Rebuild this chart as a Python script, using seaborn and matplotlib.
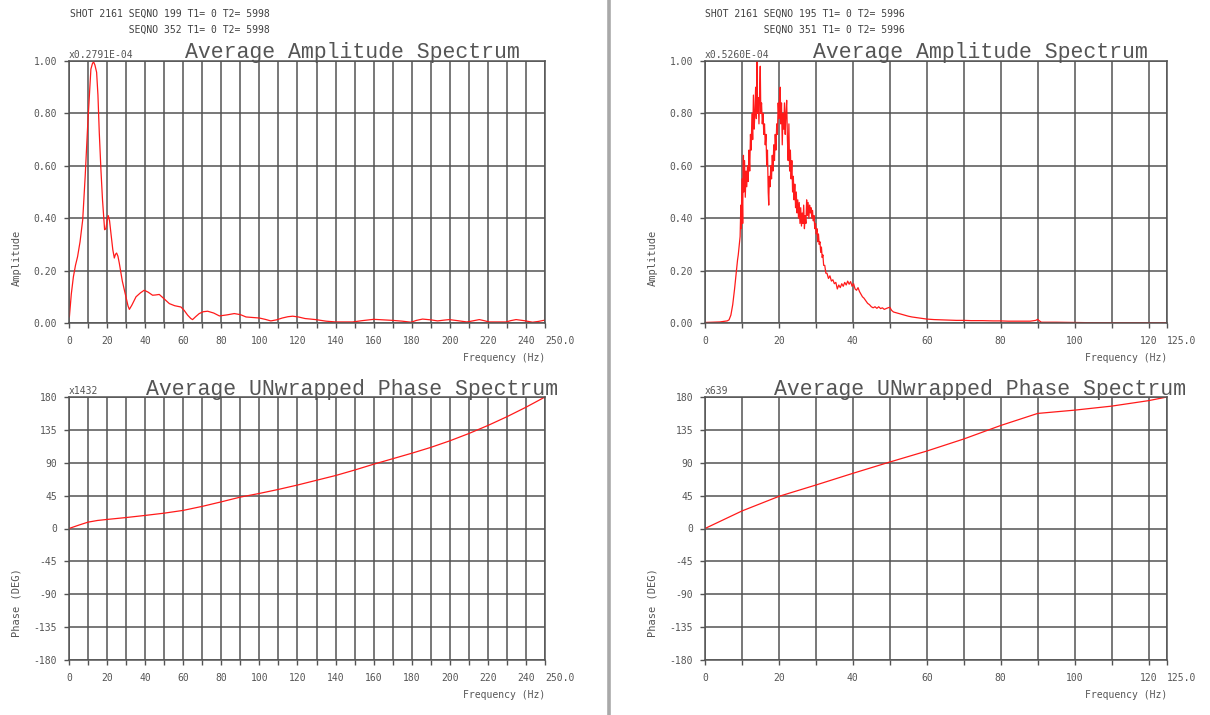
import matplotlib
matplotlib.use("Agg")
import matplotlib.pyplot as plt
from matplotlib.lines import Line2D
import pandas as pd
import seaborn as sns

# ---------------------------------------------------------------- data
header_left = ["SHOT 2161 SEQNO 199 T1= 0 T2= 5998",
               "          SEQNO 352 T1= 0 T2= 5998"]
header_right = ["SHOT 2161 SEQNO 195 T1= 0 T2= 5996",
                "          SEQNO 351 T1= 0 T2= 5996"]

amp_scale_left = "x0.2791E-04"
amp_scale_right = "x0.5260E-04"
phase_scale_left = "x1432"
phase_scale_right = "x639"

# normalised amplitude spectrum, trace pair 199/352 (0-250 Hz)
freq_amp_left = [0.2, 1.2, 2.3, 3.4, 4.5, 5.8, 7.2, 8.5, 9.8, 10.8, 11.5, 12.3,
                 12.9, 13.6, 14.5, 15.2, 15.9, 16.8, 17.6, 18.7, 19.4, 20.0,
                 20.6, 21.3, 22.0, 23.0, 23.8, 24.4, 25.0, 25.7, 26.4, 28.0,
                 29.9, 31.0, 31.7, 33.0, 35.2, 37.5, 39.5, 41.5, 43.9, 45.5,
                 47.4, 50.0, 52.7, 55.5, 58.8, 60.5, 62.3, 64.0, 64.9, 66.5,
                 68.4, 70.5, 72.8, 76.0, 79.0, 83.0, 86.8, 90.0, 93.0, 96.5,
                 100.0, 103.0, 106.0, 109.0, 112.0, 115.0, 117.5, 120.5, 124.0,
                 129.6, 135.0, 140.0, 145.0, 149.0, 154.0, 160.0, 165.0, 170.0,
                 175.0, 179.6, 182.5, 185.7, 190.0, 193.6, 197.0, 199.7, 204.0,
                 209.0, 212.0, 215.5, 218.0, 220.7, 225.0, 229.5, 232.0, 234.8,
                 239.0, 243.5, 246.5, 249.3, 250.0]
amp_left = [0.023, 0.11, 0.176, 0.22, 0.253, 0.31, 0.394, 0.56, 0.752, 0.88,
            0.969, 0.99, 0.997, 0.985, 0.957, 0.87, 0.727, 0.58, 0.47, 0.356,
            0.36, 0.39, 0.41, 0.39, 0.344, 0.28, 0.248, 0.262, 0.267, 0.255,
            0.229, 0.16, 0.10, 0.065, 0.052, 0.068, 0.10, 0.115, 0.125, 0.118,
            0.106, 0.107, 0.109, 0.092, 0.074, 0.066, 0.061, 0.048, 0.03,
            0.017, 0.013, 0.024, 0.036, 0.043, 0.045, 0.038, 0.027, 0.031,
            0.036, 0.032, 0.023, 0.021, 0.019, 0.014, 0.008, 0.012, 0.019,
            0.024, 0.026, 0.023, 0.017, 0.013, 0.007, 0.004, 0.004, 0.004,
            0.009, 0.014, 0.012, 0.01, 0.007, 0.003, 0.01, 0.015, 0.012, 0.008,
            0.011, 0.013, 0.009, 0.004, 0.008, 0.013, 0.009, 0.004, 0.004,
            0.004, 0.009, 0.013, 0.009, 0.003, 0.006, 0.01, 0.01]

# normalised amplitude spectrum, trace pair 195/351 (0-125 Hz)
freq_amp_right = [0.0, 2.0, 4.0, 5.0, 6.0, 6.5, 7.0, 7.5, 8.0, 8.5, 8.8, 9.0,
                  9.3, 9.5, 9.7, 9.8, 10.0, 10.2, 10.3, 10.4, 10.5, 10.7, 10.9,
                  11.1, 11.3, 11.5, 11.7, 11.9, 12.1, 12.3, 12.5, 12.7, 12.9,
                  13.1, 13.3, 13.5, 13.7, 13.9, 14.05, 14.2, 14.4, 14.6, 14.8,
                  14.95, 15.1, 15.3, 15.5, 15.7, 15.9, 16.1, 16.3, 16.5, 16.7,
                  16.9, 17.1, 17.25, 17.4, 17.6, 17.8, 18.0, 18.2, 18.4, 18.6,
                  18.8, 19.0, 19.2, 19.4, 19.6, 19.8, 20.0, 20.2, 20.35, 20.5,
                  20.7, 20.9, 21.1, 21.3, 21.5, 21.7, 21.9, 22.1, 22.3, 22.5,
                  22.7, 22.9, 23.1, 23.3, 23.5, 23.7, 23.9, 24.1, 24.3, 24.5,
                  24.7, 24.9, 25.1, 25.3, 25.5, 25.7, 25.9, 26.1, 26.3, 26.5,
                  26.7, 26.9, 27.1, 27.3, 27.5, 27.7, 27.9, 28.1, 28.3, 28.5,
                  28.7, 28.9, 29.1, 29.3, 29.5, 29.7, 29.9, 30.1, 30.3, 30.5,
                  30.7, 30.9, 31.1, 31.3, 31.5, 31.7, 31.9, 32.1, 32.4, 32.7,
                  33.0, 33.4, 33.8, 34.2, 34.6, 35.0, 35.4, 35.8, 36.2, 36.6,
                  37.0, 37.4, 37.8, 38.2, 38.6, 39.0, 39.4, 39.8, 40.2, 40.6,
                  41.0, 41.4, 41.8, 42.2, 42.6, 43.0, 43.5, 44.0, 44.5, 45.0,
                  45.5, 46.0, 46.5, 47.0, 47.5, 48.0, 48.5, 49.0, 49.5, 50.0,
                  50.5, 51.0, 52.0, 53.0, 54.0, 55.0, 56.0, 57.0, 58.0, 59.0,
                  60.0, 62.0, 64.0, 66.0, 68.0, 70.0, 72.0, 75.0, 78.0, 80.0,
                  82.0, 85.0, 88.0, 89.5, 90.0, 90.5, 91.0, 95.0, 100.0, 102.0,
                  105.0, 110.0, 115.0, 120.0, 125.0]
amp_right = [0.002, 0.003, 0.004, 0.006, 0.008, 0.012, 0.03, 0.07, 0.13, 0.2,
             0.24, 0.26, 0.3, 0.33, 0.45, 0.36, 0.55, 0.38, 0.58, 0.64, 0.5,
             0.62, 0.48, 0.58, 0.52, 0.6, 0.54, 0.66, 0.58, 0.72, 0.66, 0.8,
             0.7, 0.87, 0.74, 0.8, 0.9, 0.78, 1.0, 0.8, 0.86, 0.76, 0.9, 0.98,
             0.8, 0.84, 0.76, 0.8, 0.72, 0.76, 0.68, 0.72, 0.6, 0.66, 0.5, 0.45,
             0.56, 0.52, 0.6, 0.55, 0.64, 0.58, 0.68, 0.62, 0.72, 0.66, 0.76,
             0.72, 0.84, 0.78, 0.88, 0.9, 0.76, 0.84, 0.68, 0.8, 0.74, 0.84,
             0.72, 0.8, 0.85, 0.7, 0.62, 0.76, 0.58, 0.66, 0.55, 0.62, 0.5,
             0.56, 0.47, 0.53, 0.44, 0.5, 0.42, 0.47, 0.4, 0.46, 0.38, 0.44,
             0.37, 0.42, 0.38, 0.45, 0.36, 0.41, 0.38, 0.47, 0.41, 0.46, 0.4,
             0.45, 0.42, 0.44, 0.4, 0.43, 0.39, 0.41, 0.36, 0.38, 0.34, 0.36,
             0.31, 0.34, 0.3, 0.31, 0.27, 0.29, 0.25, 0.26, 0.22, 0.22, 0.19,
             0.19, 0.17, 0.18, 0.16, 0.165, 0.15, 0.155, 0.13, 0.145, 0.135,
             0.15, 0.14, 0.155, 0.145, 0.16, 0.148, 0.158, 0.14, 0.15, 0.13,
             0.125, 0.135, 0.12, 0.11, 0.1, 0.095, 0.085, 0.075, 0.07, 0.062,
             0.058, 0.062, 0.056, 0.062, 0.055, 0.058, 0.052, 0.055, 0.058,
             0.06, 0.048, 0.042, 0.038, 0.034, 0.03, 0.026, 0.023, 0.021,
             0.019, 0.017, 0.015, 0.013, 0.012, 0.011, 0.01, 0.01, 0.009,
             0.009, 0.008, 0.008, 0.007, 0.007, 0.007, 0.01, 0.014, 0.008,
             0.003, 0.003, 0.002, 0.002, 0.001, 0.001, 0.001, 0.001, 0.001]

# unwrapped phase (degrees, scaled)
freq_phase_left = [0, 5, 10, 15, 20, 30, 40, 50, 60, 70, 80, 90, 100, 110, 120,
                   130, 140, 150, 160, 170, 180, 190, 200, 210, 220, 230, 240,
                   250]
phase_left = [0, 4.5, 8.7, 11.0, 12.4, 15.0, 17.9, 21.0, 24.8, 30.3, 36.5,
              43.0, 48.0, 53.5, 59.5, 66.0, 72.5, 80.0, 88.0, 95.5, 103.0,
              111.0, 120.0, 130.0, 141.0, 153.0, 166.0, 180.0]

freq_phase_right = [0, 10, 20, 30, 40, 50, 60, 70, 80, 90, 100, 110, 120, 125]
phase_right = [0, 24.0, 44.0, 59.5, 75.5, 91.0, 106.0, 122.5, 141.0, 157.5,
               162.0, 167.5, 175.0, 180.0]

amp_ticks = [0.0, 0.2, 0.4, 0.6, 0.8, 1.0]
phase_ticks = [-180, -135, -90, -45, 0, 45, 90, 135, 180]

# ---------------------------------------------------------------- style
sns.set_theme(style="white")
plt.rcParams["font.family"] = ["DejaVu Sans Mono", "DejaVu Sans"]

GRID = "#535353"
TXT = "#555555"
LINE = "#ff1a1a"
TITLE_FONT = ["Liberation Mono", "DejaVu Sans Mono"]

W, H = 1210, 715
fig = plt.figure(figsize=(W / 100, H / 100), dpi=100)
fig.patch.set_facecolor("white")


def box(x0, x1, ytop, ybot):
    return [x0 / W, 1 - ybot / H, (x1 - x0) / W, (ybot - ytop) / H]


ax_al = fig.add_axes(box(69, 545, 61, 323))
ax_pl = fig.add_axes(box(69, 545, 397, 660))
ax_ar = fig.add_axes(box(705, 1167, 61, 323))
ax_pr = fig.add_axes(box(705, 1167, 397, 660))


def freq_axis(ax, fmax):
    ticks = list(range(0, int(fmax), 10)) + [fmax]
    labels = [str(t) if t % 20 == 0 else "" for t in ticks[:-1]] + [f"{fmax:.1f}"]
    ax.set_xlim(0, fmax)
    ax.set_xticks(ticks)
    ax.set_xticklabels(labels)
    ax.get_xticklabels()[-1].set_horizontalalignment("left")
    ax.set_xlabel("Frequency (Hz)", loc="right", fontsize=7, color=TXT,
                  labelpad=5)


def frame(ax, title, title_y, scale_txt, ylabel, label_x, label_y):
    ax.set_facecolor("white")
    ax.grid(True, color=GRID, linewidth=1.1)
    ax.set_axisbelow(True)
    for s in ax.spines.values():
        s.set_visible(True)
        s.set_color(GRID)
        s.set_linewidth(1.1)
    ax.tick_params(axis="both", which="major", length=3.5, width=1.0,
                   color=GRID, labelsize=7, labelcolor=TXT,
                   bottom=True, left=True)
    ax.tick_params(axis="x", pad=6)
    ax.tick_params(axis="y", pad=5)
    ax.text(0.595, title_y, title, transform=ax.transAxes, ha="center",
            va="baseline", fontsize=15.5, color=TXT, family=TITLE_FONT)
    ax.text(0.0, 1.004, scale_txt, transform=ax.transAxes, ha="left",
            va="bottom", fontsize=7, color=TXT)
    ax.set_ylabel(ylabel, fontsize=7.5, color=TXT)
    ax.yaxis.set_label_coords(label_x, label_y)


def amp_panel(ax, f, a, fmax, scale_txt, label_x):
    df = pd.DataFrame({"freq": f, "amp": a})
    sns.lineplot(data=df, x="freq", y="amp", ax=ax, color=LINE,
                 linewidth=0.9, sort=False, estimator=None)
    freq_axis(ax, fmax)
    ax.set_ylim(0, 1.0)
    ax.set_yticks(amp_ticks)
    ax.set_yticklabels([f"{v:.2f}" for v in amp_ticks])
    frame(ax, "Average Amplitude Spectrum", 1.012, scale_txt, "Amplitude",
          label_x, 0.25)


def phase_panel(ax, f, p, fmax, scale_txt, label_x):
    df = pd.DataFrame({"freq": f, "phase": p})
    sns.lineplot(data=df, x="freq", y="phase", ax=ax, color=LINE,
                 linewidth=0.9, sort=False, estimator=None)
    freq_axis(ax, fmax)
    ax.set_ylim(-180, 180)
    ax.set_yticks(phase_ticks)
    ax.set_yticklabels([str(v) for v in phase_ticks])
    frame(ax, "Average UNwrapped Phase Spectrum", 1.008, scale_txt,
          "Phase (DEG)", label_x, 0.22)


amp_panel(ax_al, freq_amp_left, amp_left, 250, amp_scale_left, -0.10)
phase_panel(ax_pl, freq_phase_left, phase_left, 250, phase_scale_left, -0.10)
amp_panel(ax_ar, freq_amp_right, amp_right, 125, amp_scale_right, -0.103)
phase_panel(ax_pr, freq_phase_right, phase_right, 125, phase_scale_right, -0.103)

# shot / sequence header above each column
for x0, lines in ((70, header_left), (705, header_right)):
    for i, line in enumerate(lines):
        fig.text(x0 / W, 1 - (17 + 16 * i) / H, line, ha="left",
                 va="baseline", fontsize=7, color="#404040")

# window divider between the two columns
fig.add_artist(Line2D([609 / W, 609 / W], [0, 1], transform=fig.transFigure,
                      color="#a9a9a9", linewidth=2.6))

fig.savefig("out.png", dpi=100, facecolor="white")
